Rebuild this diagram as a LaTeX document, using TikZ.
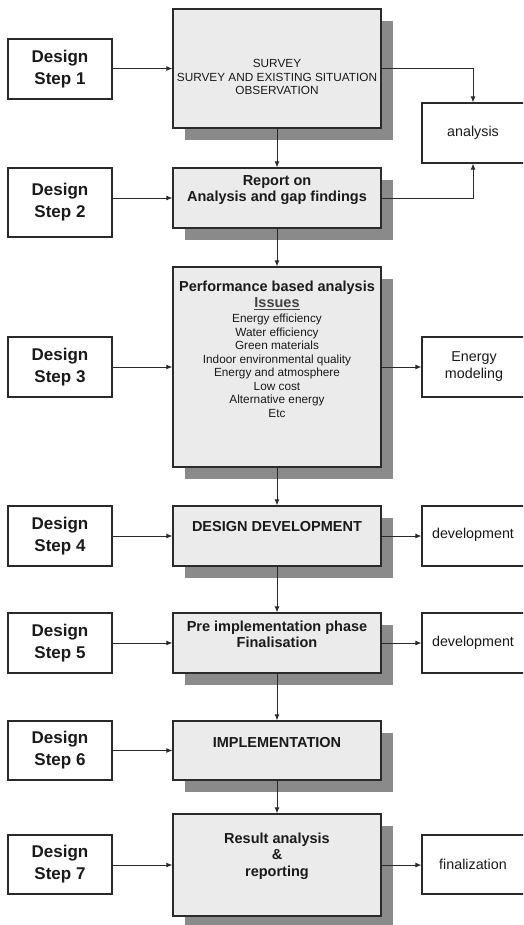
\documentclass[tikz,border=0pt]{standalone}
\usepackage{fontspec}
\setmainfont{Liberation Sans}
\usetikzlibrary{arrows.meta,shadows}
\definecolor{mainfill}{HTML}{EBEBEB}
\definecolor{shc}{HTML}{8A8A8A}
\definecolor{linec}{HTML}{2A2A2A}
\definecolor{txtc}{HTML}{1A1A1A}
\definecolor{issc}{HTML}{444444}
\tikzset{
  stepbox/.style={draw=linec,line width=1.3pt,fill=white,minimum width=104pt,inner sep=0pt,
    align=center,font=\fontsize{17}{22}\selectfont\bfseries,text=txtc},
  mainbox/.style={draw=linec,line width=1.3pt,fill=mainfill,minimum width=208pt,inner sep=0pt,
    drop shadow={shadow xshift=12pt,shadow yshift=-12pt,fill=shc,opacity=1}},
  sidebox/.style={draw=linec,line width=1.2pt,fill=white,minimum width=140pt,inner sep=0pt},
  btxt/.style={align=center,inner sep=0pt,font=\fontsize{14.5}{16.5}\selectfont\bfseries,text=txtc},
  stxt/.style={align=center,inner sep=0pt,font=\fontsize{11.8}{13.5}\selectfont,text=txtc},
  sidetxt/.style={align=center,inner sep=0pt,font=\fontsize{14.3}{17}\selectfont,text=txtc},
  arr/.style={draw=linec,line width=0.9pt,-{Latex[length=6pt,width=5pt]}},
}
\begin{document}
\begin{tikzpicture}[x=1pt,y=-1pt]
\useasboundingbox (0,0) rectangle (523,925);
\clip (0,0) rectangle (523,925);
\fill[white] (0,0) rectangle (523,925);
% main boxes
\node[mainbox,minimum height=119pt] (m1) at (277,68.5) {};
\node[mainbox,minimum height=60pt] (m2) at (277,198) {};
\node[mainbox,minimum height=200pt] (m3) at (277,367) {};
\node[mainbox,minimum height=60pt] (m4) at (277,536) {};
\node[mainbox,minimum height=60pt] (m5) at (277,643) {};
\node[mainbox,minimum height=59pt] (m6) at (277,750.5) {};
\node[mainbox,minimum height=102pt] (m7) at (277,865) {};
% main texts
\node[stxt] (t1) at (277,77) {SURVEY\\SURVEY AND EXISTING SITUATION\\OBSERVATION};
\node[btxt] (t2) at (277,190) {Report on\\Analysis and gap findings};
\node[btxt] (t3a) at (277,288) {Performance based analysis};
\node[btxt,text=issc] (t3b) at (277,304) {\underline{Issues}};
\node[stxt] (t3c) at (277,366) {Energy efficiency\\Water efficiency\\Green materials\\Indoor environmental quality\\Energy and atmosphere\\Low cost\\Alternative energy\\Etc};
\node[btxt] (t4) at (277,527) {DESIGN DEVELOPMENT};
\node[btxt] (t5) at (277,634.5) {Pre implementation phase\\Finalisation};
\node[btxt] (t6) at (277,742) {IMPLEMENTATION};
\node[btxt] (t7) at (277,856) {Result analysis\\\&\\reporting};
% step boxes
\node[stepbox,minimum height=60pt] (s1) at (60,69) {Design\\Step 1};
\node[stepbox,minimum height=69pt] (s2) at (60,202.5) {Design\\Step 2};
\node[stepbox,minimum height=60pt] (s3) at (60,367) {Design\\Step 3};
\node[stepbox,minimum height=60pt] (s4) at (60,536) {Design\\Step 4};
\node[stepbox,minimum height=60pt] (s5) at (60,643) {Design\\Step 5};
\node[stepbox,minimum height=59pt] (s6) at (60,750.5) {Design\\Step 6};
\node[stepbox,minimum height=59pt] (s7) at (60,864.5) {Design\\Step 7};
% side boxes (right edge runs past the picture edge)
\node[sidebox,minimum height=60pt] (an) at (492,133) {};
\node[sidebox,minimum height=60pt] (en) at (492,367) {};
\node[sidebox,minimum height=60pt] (d1) at (492,536) {};
\node[sidebox,minimum height=60pt] (d2) at (492,643) {};
\node[sidebox,minimum height=59pt] (fi) at (492,864.5) {};
\node[sidetxt] (ant) at (473,133) {analysis};
\node[sidetxt] (ent) at (474,366.5) {Energy\\modeling};
\node[sidetxt] (d1t) at (473,535) {development};
\node[sidetxt] (d2t) at (473,643) {development};
\node[sidetxt] (fit) at (473,864) {finalization};
% connectors: steps to main
\draw[arr] (s1.east |- m1.west) -- (m1.west);
\draw[arr] (s2.east |- m2.west) -- (m2.west);
\draw[arr] (s3.east) -- (m3.west);
\draw[arr] (s4.east) -- (m4.west);
\draw[arr] (s5.east) -- (m5.west);
\draw[arr] (s6.east) -- (m6.west);
\draw[arr] (s7.east |- m7.west) -- (m7.west);
% vertical chain
\draw[arr] (m1.south) -- (m2.north);
\draw[arr] (m2.south) -- (m3.north);
\draw[arr] (m3.south) -- (m4.north);
\draw[arr] (m4.south) -- (m5.north);
\draw[arr] (m5.south) -- (m6.north);
\draw[arr] (m6.south) -- (m7.north);
% main to side
\draw[arr] (m1.east) -| (ant |- an.north);
\draw[arr] (m2.east) -| (ant |- an.south);
\draw[arr] (m3.east) -- (en.west);
\draw[arr] (m4.east) -- (d1.west);
\draw[arr] (m5.east) -- (d2.west);
\draw[arr] (m7.east) -- (m7.east -| fi.west);
\end{tikzpicture}
\end{document}
